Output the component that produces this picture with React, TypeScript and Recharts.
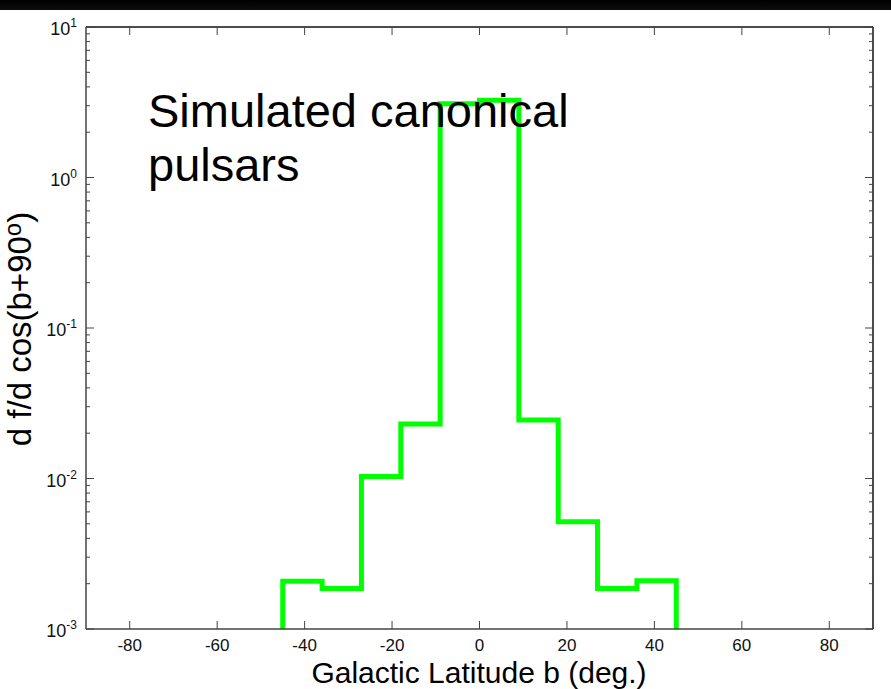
import React from 'react';
import { ComposedChart, Line, XAxis, YAxis } from 'recharts';

// Histogram bin edges (deg) and heights
const binEdges = [-45, -36, -27, -18, -9, 0, 9, 18, 27, 36, 45];
const binValues = [0.00208, 0.00186, 0.0103, 0.023, 3.09, 3.26, 0.0245, 0.00516, 0.00186, 0.00209];
const floorValue = 0.001;

const xTicks = [-80, -60, -40, -20, 0, 20, 40, 60, 80];
const yMajorTicks = [0.001, 0.01, 0.1, 1, 10];
const yExponents = ['-3', '-2', '-1', '0', '1'];
const yDecades = [-3, -2, -1, 0];
const yMantissas = [1, 2, 3, 4, 5, 6, 7, 8, 9];

const yAllTicks: number[] = [];
yDecades.forEach((d) => yMantissas.forEach((m) => yAllTicks.push(Number((m * Math.pow(10, d)).toPrecision(3)))));
yAllTicks.push(10);

const data: { x: number; y: number }[] = [];
data.push({ x: binEdges[0], y: floorValue });
binValues.forEach((v, i) => data.push({ x: binEdges[i], y: v }));
data.push({ x: binEdges[binEdges.length - 1], y: floorValue });

const FONT = '"Liberation Sans", Arial, Helvetica, sans-serif';
const AXIS = '#444';
const TEXT = '#111';

const majorIndex = (v: number) => yMajorTicks.findIndex((t) => Math.abs(t - v) / t < 1e-6);

const LeftTick = (props: any) => {
  const { x, y, payload } = props;
  const idx = majorIndex(payload.value);
  const major = idx >= 0;
  return (
    <g>
      <line x1={x} x2={x + (major ? 8 : 4)} y1={y} y2={y} stroke={AXIS} strokeWidth={1} />
      {major && (
        <text x={x - 9} y={y + 8} textAnchor="end" fontFamily={FONT} fontSize={18} fill={TEXT}>
          <tspan>10</tspan>
          <tspan dy={-8} fontSize={12}>{yExponents[idx]}</tspan>
        </text>
      )}
    </g>
  );
};

const RightTick = (props: any) => {
  const { x, y, payload } = props;
  const major = majorIndex(payload.value) >= 0;
  return <line x1={x} x2={x - (major ? 8 : 4)} y1={y} y2={y} stroke={AXIS} strokeWidth={1} />;
};

const BottomTick = (props: any) => {
  const { x, y, payload } = props;
  return (
    <g>
      <line x1={x} x2={x} y1={y} y2={y - 8} stroke={AXIS} strokeWidth={1} />
      <text x={x} y={y + 22} textAnchor="middle" fontFamily={FONT} fontSize={17} fill={TEXT}>
        {payload.value}
      </text>
    </g>
  );
};

const TopTick = (props: any) => {
  const { x, y } = props;
  return <line x1={x} x2={x} y1={y} y2={y + 8} stroke={AXIS} strokeWidth={1} />;
};

export default function App() {
  return (
    <div style={{ position: 'absolute', left: 0, top: 0, width: 891, height: 689, background: '#fff', overflow: 'hidden' }}>
      <div style={{ position: 'absolute', left: 0, top: 0, width: 891, height: 10, background: 'linear-gradient(to bottom, #000, #0c0f0c)' }} />
      <div style={{ position: 'absolute', left: 0, top: 0 }}>
        <ComposedChart width={891} height={689} data={data} margin={{ top: 0, right: 0, bottom: 0, left: 0 }}>
          <XAxis
            xAxisId="bottom"
            type="number"
            dataKey="x"
            domain={[-90, 90]}
            ticks={xTicks}
            interval={0}
            height={60}
            tickSize={0}
            tickMargin={0}
            tickLine={false}
            axisLine={{ stroke: AXIS, strokeWidth: 1.5 }}
            tick={<BottomTick />}
            allowDataOverflow
          />
          <XAxis
            xAxisId="top"
            orientation="top"
            type="number"
            dataKey="x"
            domain={[-90, 90]}
            ticks={xTicks}
            interval={0}
            height={27}
            tickSize={0}
            tickMargin={0}
            tickLine={false}
            axisLine={{ stroke: '#111', strokeWidth: 1.5 }}
            tick={<TopTick />}
            allowDataOverflow
          />
          <YAxis
            yAxisId="left"
            scale="log"
            domain={[0.001, 10]}
            ticks={yAllTicks}
            interval={0}
            width={86}
            tickSize={0}
            tickMargin={0}
            tickLine={false}
            axisLine={{ stroke: AXIS, strokeWidth: 1.5 }}
            tick={<LeftTick />}
            allowDataOverflow
          />
          <YAxis
            yAxisId="right"
            orientation="right"
            scale="log"
            domain={[0.001, 10]}
            ticks={yAllTicks}
            interval={0}
            width={18}
            tickSize={0}
            tickMargin={0}
            tickLine={false}
            axisLine={{ stroke: '#111', strokeWidth: 1.5 }}
            tick={<RightTick />}
            allowDataOverflow
          />
          <Line
            xAxisId="bottom"
            yAxisId="left"
            type="stepAfter"
            dataKey="y"
            stroke="#00ff00"
            strokeWidth={5}
            strokeLinejoin="miter"
            strokeLinecap="butt"
            dot={false}
            activeDot={false}
            isAnimationActive={false}
          />
        </ComposedChart>
      </div>
      <svg width={891} height={689} style={{ position: 'absolute', left: 0, top: 0, pointerEvents: 'none' }}>
        <text x={148} y={127} fontFamily={FONT} fontSize={47} fill="#000">Simulated canonical</text>
        <text x={148} y={181} fontFamily={FONT} fontSize={47} fill="#000">pulsars</text>
        <text x={479} y={682.5} textAnchor="middle" fontFamily={FONT} fontSize={30} fill="#000">Galactic Latitude b (deg.)</text>
        <text transform="translate(31,329) rotate(-90)" textAnchor="middle" fontFamily={FONT} fontSize={33} fill="#000">
          <tspan>d f/d cos(b+90</tspan>
          <tspan dy={-10} fontSize={24}>o</tspan>
          <tspan dy={10}>)</tspan>
        </text>
      </svg>
    </div>
  );
}
